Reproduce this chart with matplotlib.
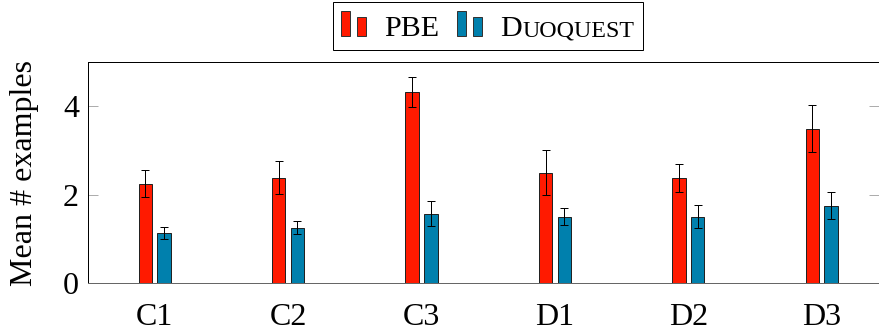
import numpy as np
import matplotlib
matplotlib.use("Agg")
import matplotlib.pyplot as plt
from matplotlib.offsetbox import (AnchoredOffsetbox, DrawingArea, HPacker,
                                  TextArea)
from matplotlib.patches import Rectangle

# data
categories = ["C1", "C2", "C3", "D1", "D2", "D3"]
pbe_mean = [2.25, 2.38, 4.32, 2.50, 2.38, 3.49]
pbe_err = [0.30, 0.37, 0.33, 0.50, 0.31, 0.53]
duo_mean = [1.13, 1.25, 1.57, 1.50, 1.50, 1.75]
duo_err = [0.13, 0.15, 0.29, 0.19, 0.26, 0.31]

RED = "#ff1a00"
BLUE = "#0080ad"

plt.rcParams["font.family"] = ["Liberation Serif", "DejaVu Serif"]

# dpi 72 -> 1 pt == 1 px
fig = plt.figure(figsize=(879 / 72, 333 / 72), dpi=72)
ax = fig.add_axes([88 / 879, 50 / 333, 791 / 879, 221 / 333])

x = np.arange(len(categories))
w = 0.1
off = 0.07
err_kw = dict(ecolor="black", elinewidth=1.0, capsize=4, capthick=1.0)
ax.bar(x - off, pbe_mean, w, yerr=pbe_err, color=RED, edgecolor="#222222",
       linewidth=1.0, error_kw=err_kw, zorder=2)
ax.bar(x + off, duo_mean, w, yerr=duo_err, color=BLUE, edgecolor="#222222",
       linewidth=1.0, error_kw=err_kw, zorder=2)

ax.set_xlim(-0.5, -0.5 + 791 / 133.4)
ax.set_ylim(0, 5)
ax.set_xticks(x)
ax.set_xticklabels(categories)
ax.set_yticks([0, 2, 4])
ax.tick_params(axis="x", length=0, labelsize=32, pad=20)
ax.tick_params(axis="y", direction="in", length=10, color="#999999",
               labelsize=32, right=True, pad=9)
ax.set_ylabel("Mean # examples", fontsize=32, labelpad=24)
for s in ax.spines.values():
    s.set_linewidth(1.0)
ax.spines["bottom"].set_color("#666666")


def handle(color):
    da = DrawingArea(25, 26, 0, 0)
    da.add_artist(Rectangle((0, 0), 9, 25, fc=color, ec="#333333", lw=1))
    da.add_artist(Rectangle((16, 0), 9, 19, fc=color, ec="#333333", lw=1))
    return da


txt = dict(color="black", family=["Liberation Serif", "DejaVu Serif"])
pbe_label = TextArea("PBE", textprops=dict(size=30, **txt))
duo_label = HPacker(children=[
    TextArea("D", textprops=dict(size=30, **txt)),
    TextArea("UOQUEST", textprops=dict(size=24, **txt)),
], align="baseline", pad=0, sep=1)

row = HPacker(children=[handle(RED), pbe_label, handle(BLUE), duo_label],
              align="baseline", pad=0, sep=18)
box = AnchoredOffsetbox(loc="center", child=row, pad=0.8, borderpad=0,
                        prop=dict(size=10), frameon=True,
                        bbox_to_anchor=(488 / 879, 307 / 333),
                        bbox_transform=fig.transFigure)
box.patch.set_edgecolor("black")
box.patch.set_linewidth(1.0)
box.patch.set_boxstyle("square", pad=0)
fig.add_artist(box)

fig.savefig("out.png", dpi=72)
